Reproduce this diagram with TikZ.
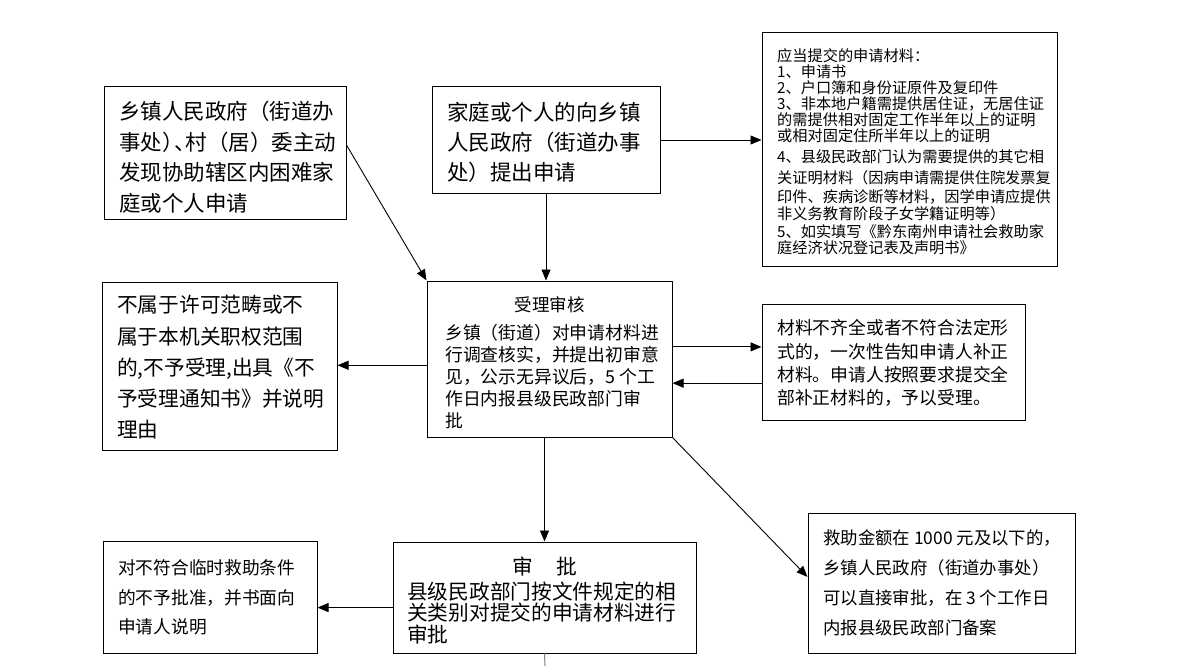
\documentclass[tikz,border=0pt]{standalone}
\usepackage{fontspec}
\setmainfont{Noto Sans CJK SC}
\usetikzlibrary{arrows.meta,calc}
\newcommand\myfs[2]{\fontsize{#1}{#2}\selectfont}
\tikzset{
  box/.style={draw, line width=1pt, rectangle, inner sep=0pt},
  txt/.style={inner sep=0pt, align=left, anchor=north west},
  ttl/.style={inner sep=0pt, anchor=north},
  arr/.style={line width=0.9pt, -{Triangle[length=11pt,width=9pt]}},
}
\begin{document}
\begin{tikzpicture}[x=1pt,y=-1pt]
\useasboundingbox[fill=white] (0,0) rectangle (1190,666);

% boxes
\node[box, minimum width=242, minimum height=132] (A) at (225,153) {};
\node[box, minimum width=228, minimum height=106] (B) at (546,140) {};
\node[box, minimum width=295, minimum height=233] (C) at (909.5,149.5) {};
\node[box, minimum width=245, minimum height=156] (D) at (549.5,359) {};
\node[box, minimum width=235, minimum height=168] (E) at (219.5,366) {};
\node[box, minimum width=263, minimum height=116] (F) at (893.5,362) {};
\node[box, minimum width=303, minimum height=111] (G) at (544.5,597.5) {};
\node[box, minimum width=214, minimum height=112] (H) at (210,597) {};
\node[box, minimum width=267, minimum height=140] (I) at (941.5,583) {};

% texts
\node[txt, font=\myfs{21.5}{30.5}] (At) at (119,100.9) {乡镇人民政府（街道办\\事处）\kern-0.45em、\kern-0.45em村（居）委主动\\发现协助辖区内困难家\\庭或个人申请};
\node[txt, font=\myfs{21.5}{30}] (Bt) at (447,101.9) {家庭或个人的向乡镇\\人民政府（街道办事\\处）提出申请};
\node[txt, font=\myfs{15.2}{16}] (Ct) at (777,47.9) {应当提交的申请材料：\\1、申请书\\2、户口簿和身份证原件及复印件\\3、非本地户籍需提供居住证，无居住证\\的需提供相对固定工作半年以上的证明\\或相对固定住所半年以上的证明\\[5pt]4、县级民政部门认为需要提供的其它相\\[5.7pt]关证明材料（因病申请需提供住院发票复\\[2.3pt]印件、疾病诊断等材料，因学申请应提供\\[1.7pt]非义务教育阶段子女学籍证明等）\\[1.3pt]5、如实填写《黔东南州申请社会救助家\\[0.7pt]庭经济状况登记表及声明书》};
\node[ttl, font=\myfs{17.5}{22}] (Dh) at (549.5,296.8) {受理审核};
\node[txt, font=\myfs{17.8}{22}] (Dt) at (445,323.6) {乡镇（街道）对申请材料进\\行调查核实，并提出初审意\\见，公示无异议后，5 个工\\作日内报县级民政部门审\\批};
\node[txt, font=\myfs{20.7}{31.2}] (Et) at (117,295.3) {不属于许可范畴或不\\属于本机关职权范围\\的,不予受理,出具《不\\予受理通知书》并说明\\理由};
\node[txt, font=\myfs{17.8}{23.3}] (Ft) at (777,319.6) {材料不齐全或者不符合法定形\\式的，一次性告知申请人补正\\材料。申请人按照要求提交全\\部补正材料的，予以受理。};
\node[ttl, font=\myfs{20.7}{22}] (Gh) at (545,556.3) {审\hspace{23pt}批};
\node[txt, font=\myfs{20.7}{21.5}] (Gt) at (407,581.3) {县级民政部门按文件规定的相\\关类别对提交的申请材料进行\\审批};
\node[txt, font=\myfs{17.7}{29.5}] (Ht) at (118,559.7) {对不符合临时救助条件\\的不予批准，并书面向\\申请人说明};
\node[txt, font=\myfs{17.4}{30}] (It) at (823,529.8) {救助金额在 1000 元及以下的，\\乡镇人民政府（街道办事处）\\可以直接审批，在 3 个工作日\\内报县级民政部门备案};

% connectors
\draw[arr] (B.south) -- (B.south |- D.north);
\draw[arr] ($(A.north east)!0.44!(A.south east)$) -- (D.north west);
\draw[arr] (B.east) -- (B.east -| C.west);
\coordinate (dl) at ($(D.north west)!0.54!(D.south west)$);
\draw[arr] (dl) -- (dl -| E.east);
\coordinate (dr1) at ($(D.north east)!0.423!(D.south east)$);
\draw[arr] (dr1) -- (dr1 -| F.west);
\coordinate (dr2) at ($(D.north east)!0.654!(D.south east)$);
\draw[arr] (dr2 -| F.west) -- (dr2);
\draw[arr] (G.north |- D.south) -- (G.north);
\draw[arr] (D.south east) -- ($(I.north west)!0.457!(I.south west)$);
\coordinate (gl) at ($(G.north west)!0.59!(G.south west)$);
\draw[arr] (gl) -- (gl -| H.east);
\coordinate (bottom) at (545,666);
\draw[line width=1pt, gray] (G.south) -- (bottom);
\end{tikzpicture}
\end{document}
